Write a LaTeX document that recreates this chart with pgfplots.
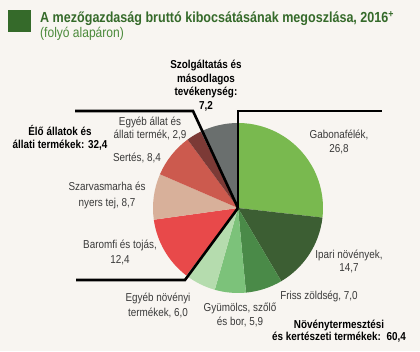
\documentclass[border=0pt]{standalone}
\usepackage{fontspec}
\setmainfont{Liberation Sans}[FakeStretch=0.86]
\usepackage{pgfplots}
\usepackage{pgfplotstable}
\pgfplotsset{compat=1.18}
\definecolor{bg}{HTML}{F8F5F1}
\definecolor{titlegreen}{HTML}{356A2A}
\definecolor{subgreen}{HTML}{4A8A3A}
\definecolor{lbl}{HTML}{3A3A3A}
\definecolor{pie0}{HTML}{79B94F}
\definecolor{pie1}{HTML}{3C5E33}
\definecolor{pie2}{HTML}{4A8A48}
\definecolor{pie3}{HTML}{7CC27A}
\definecolor{pie4}{HTML}{B5DCAE}
\definecolor{pie5}{HTML}{E8494A}
\definecolor{pie6}{HTML}{D8B09A}
\definecolor{pie7}{HTML}{CC5A4E}
\definecolor{pie8}{HTML}{7C3A36}
\definecolor{pie9}{HTML}{6A6F6E}
\pgfplotstableread{
value
26.8
14.7
7.0
5.9
6.0
12.4
8.7
8.4
2.9
7.2
}\pietable
\begin{document}
\begin{tikzpicture}
\begin{axis}[width=420pt,height=351pt,scale only axis,
  xmin=0,xmax=420,ymin=0,ymax=351,hide axis,clip=false]
\addplot[fill=bg,draw=none] coordinates {(0,0) (420,0) (420,351) (0,351)} -- cycle;
\addplot[fill=titlegreen,draw=none] coordinates {(8,319) (31,319) (31,341) (8,341)} -- cycle;
\pgfplotsextra{
  \pgfplotstablegetrowsof{\pietable}
  \pgfmathtruncatemacro\N{\pgfplotsretval-1}
  \xdef\cum{90}
  \foreach \i in {0,...,\N}{
    \pgfplotstablegetelem{\i}{value}\of\pietable
    \pgfmathsetmacro\e{\cum-3.6*\pgfplotsretval}
    \fill[pie\i] (axis cs:238,143) -- ++(\cum:85pt) arc[start angle=\cum,end angle=\e,radius=85pt] -- cycle;
    \xdef\cum{\e}
  }
}
\draw[line width=2.6pt,miter limit=10] (axis cs:75,240) -- (axis cs:193,240) -- (axis cs:238,143);
\draw[line width=2.6pt,miter limit=10] (axis cs:238,143) -- (axis cs:238,240) -- (axis cs:382,240);
\draw[line width=2.6pt,miter limit=10] (axis cs:76,71) -- (axis cs:185,71) -- (axis cs:238,143);
\node[anchor=base west,text=titlegreen,font=\fontsize{14.6}{16}\selectfont\bfseries,inner sep=0pt] at (axis cs:40,328) {A mezőgazdaság bruttó kibocsátásának megoszlása, 2016\textsuperscript{+}};
\node[anchor=base west,text=subgreen,font=\fontsize{14}{16}\selectfont,inner sep=0pt] at (axis cs:40,313) {(folyó alapáron)};
\tikzset{lab/.style={align=center,text=lbl,inner sep=0pt,font=\fontsize{11.5}{14.5}\selectfont},
  blab/.style={align=center,text=black,inner sep=0pt,font=\fontsize{11.5}{13.5}\selectfont\bfseries}}
\node[blab] at (axis cs:206,265.5) {Szolgáltatás és\\másodlagos\\tevékenység:\\7,2};
\node[lab,font=\fontsize{11.5}{13.5}\selectfont] at (axis cs:150,222.5) {Egyéb állat és\\állati termék, 2,9};
\node[blab,font=\fontsize{11.5}{12.5}\selectfont\bfseries] at (axis cs:60,213) {Élő állatok és\\állati termékek: 32,4};
\node[lab] at (axis cs:137,193) {Sertés, 8,4};
\node[lab,font=\fontsize{11.5}{16}\selectfont] at (axis cs:107,155.5) {Szarvasmarha és\\nyers tej, 8,7};
\node[lab,font=\fontsize{11.5}{15}\selectfont] at (axis cs:120,98.5) {Baromfi és tojás,\\12,4};
\node[lab] at (axis cs:158,45.5) {Egyéb növényi\\termékek, 6,0};
\node[lab,font=\fontsize{11.5}{14}\selectfont] at (axis cs:240,36) {Gyümölcs, szőlő\\és bor, 5,9};
\node[lab] at (axis cs:319,55) {Friss zöldség, 7,0};
\node[lab,font=\fontsize{11.5}{13.5}\selectfont] at (axis cs:349,89.5) {Ipari növények,\\14,7};
\node[lab,font=\fontsize{11.5}{14}\selectfont] at (axis cs:339,209) {Gabonafélék,\\26,8};
\node[blab,font=\fontsize{11.5}{12.5}\selectfont\bfseries] at (axis cs:339,20) {Növénytermesztési\\és kertészeti termékek:\ \ 60,4};
\end{axis}
\end{tikzpicture}
\end{document}
